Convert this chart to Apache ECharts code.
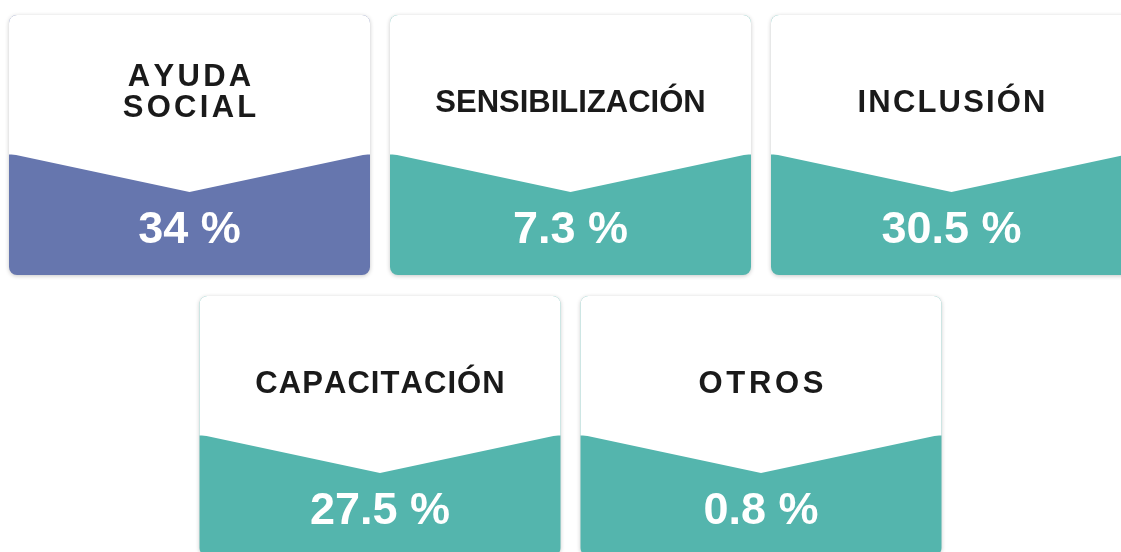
<!DOCTYPE html>
<html>
<head>
<meta charset="utf-8">
<script src="https://cdn.jsdelivr.net/npm/echarts@6/dist/echarts.min.js"></script>
<style>
	html,body{margin:0;padding:0;background:#fff;}
	#main{width:1121px;height:552px;}
</style>
</head>
<body>
<div id="main"></div>
<script>
	// categorias y porcentajes
	var categories = ['AYUDA\nSOCIAL', 'SENSIBILIZACIÓN', 'INCLUSIÓN', 'CAPACITACIÓN', 'OTROS'];
	var values = [34, 7.3, 30.5, 27.5, 0.8];

	var maxVal = Math.max.apply(null, values);

	// slot horizontal / fila de cada tarjeta (3 arriba, 2 abajo centradas)
	var cells = values.map(function(v, i) {
		var row = i < 3 ? 0 : 1;
		var slot = row === 0 ? i : (i - 3) + 0.5;
		return [slot, row, v, i];
	});

	var myChart = echarts.init(document.getElementById('main'), null, {renderer: 'canvas'});

	// espaciado entre letras: los titulos largos van mas juntos
	function spaced(label) {
		var lines = label.split('\n');
		var longest = Math.max.apply(null, lines.map(function(l) { return l.length; }));
		var sp = Math.max(0, 5.5 - 0.37 * longest);
		var txt = lines.map(function(l) {
			return l.split('').map(function(ch) { return '{c|' + ch + '}'; }).join('');
		}).join('\n');
		return {text: txt, sp: sp};
	}

	function renderCard(params, api) {
		var idx = api.value(3);
		var v = api.value(2);
		var c = api.coord([api.value(0), api.value(1)]);
		var unit = api.size([1, 1]);
		var w = unit[0] * 361 / 381;
		var h = unit[1] * 260 / 281;
		var x0 = c[0] - w / 2;
		var y0 = c[1] - h / 2;
		var side = 138.5, tip = 177;
		var color = v === maxVal ? '#6676ae' : '#54b5ad';
		var label = categories[idx];
		var twoLines = label.indexOf('\n') !== -1;
		var lab = spaced(label);
		return {
			type: 'group',
			children: [{
				type: 'rect',
				shape: {x: x0, y: y0, width: w, height: h, r: 8},
				style: {fill: color, shadowBlur: 4, shadowColor: 'rgba(0,0,0,0.22)', shadowOffsetY: 1}
			}, {
				type: 'rect',
				shape: {x: x0, y: y0, width: w, height: side + 1, r: [8, 8, 0, 0]},
				style: {fill: '#fff'}
			}, {
				type: 'polygon',
				shape: {points: [[x0, y0 + side], [x0 + w, y0 + side], [c[0], y0 + tip]]},
				style: {fill: '#fff'}
			}, {
				type: 'text',
				x: c[0],
				y: y0 + (twoLines ? 78 : 88),
				style: {
					text: lab.text,
					align: 'center',
					verticalAlign: 'middle',
					rich: {
						c: {
							fill: '#1a1a1a',
							fontSize: 31,
							fontWeight: 'bold',
							fontFamily: '"Liberation Sans", Arial, sans-serif',
							lineHeight: 31,
							padding: [0, lab.sp / 2]
						}
					}
				}
			}, {
				type: 'text',
				x: c[0],
				y: y0 + 216,
				style: {
					text: v + ' %',
					fill: '#fff',
					font: 'bold 45px "Liberation Sans", Arial, sans-serif',
					align: 'center',
					verticalAlign: 'middle'
				}
			}]
		};
	}

	myChart.setOption({
		backgroundColor: '#fff',
		animation: false,
		grid: {left: 0, top: 0, width: 1121, height: 552, outerBoundsMode: 'none', containLabel: false},
		// slot 0 -> x 189.5px, paso 381px ; fila 0 -> y 145px, paso 281px
		xAxis: {type: 'value', min: -0.4974, max: 2.4449, show: false},
		yAxis: {type: 'value', min: -0.516, max: 1.4484, inverse: true, show: false},
		series: [{
			type: 'custom',
			renderItem: renderCard,
			data: cells,
			clip: false
		}]
	});
</script>
</body>
</html>
